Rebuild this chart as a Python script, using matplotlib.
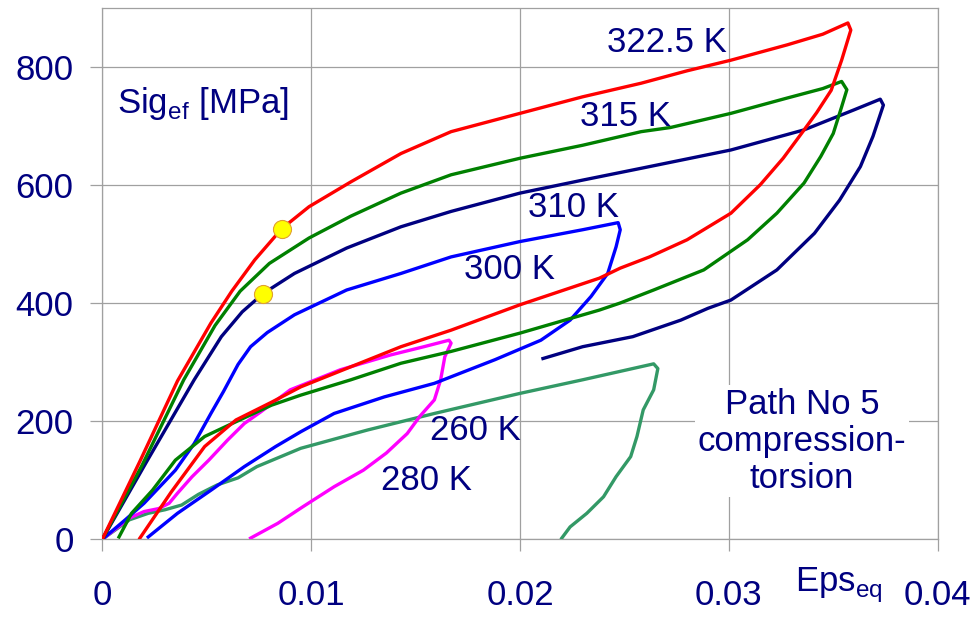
import matplotlib
matplotlib.use("Agg")
import matplotlib.pyplot as plt

plt.rcParams['font.family'] = ['Liberation Sans', 'DejaVu Sans']
plt.rcParams['mathtext.fontset'] = 'custom'
plt.rcParams['mathtext.rm'] = 'Liberation Sans'

# ---------------- data ----------------
eps_3225 = [0, 0.0018, 0.0036, 0.0052, 0.0062, 0.0073, 0.0086, 0.0099, 0.0119, 0.0143, 0.0167, 0.0200,
            0.0230, 0.0258, 0.0280, 0.0301, 0.0328, 0.0345, 0.0357, 0.03584, 0.0354, 0.0349,
            0.0342, 0.0335, 0.0326, 0.0315, 0.0301, 0.0280, 0.0262, 0.0248, 0.0238, 0.0200,
            0.0167, 0.0143, 0.0119, 0.0095, 0.0081, 0.0064, 0.0049, 0.0033, 0.0018]
sig_3225 = [0, 132, 268, 366, 420, 473, 526, 563, 605, 653, 690, 721,
            749, 772, 793, 811, 837, 855, 874, 862, 811, 760,
            722, 688, 645, 600, 552, 507, 478, 459, 442, 397,
            354, 326, 292, 258, 232, 202, 157, 80, 2]

eps_315 = [0, 0.0019, 0.0039, 0.0054, 0.0066, 0.0080, 0.0099, 0.0119, 0.0143, 0.0167, 0.0200, 0.0230,
           0.0258, 0.0272, 0.0301, 0.0328, 0.0345, 0.0354, 0.03565, 0.0354, 0.0350, 0.0344,
           0.0336, 0.0323, 0.0309, 0.0288, 0.0264, 0.0248, 0.0238, 0.0200, 0.0167, 0.0143,
           0.0119, 0.0095, 0.0081, 0.0064, 0.0049, 0.0035, 0.0024, 0.0014, 0.0008]
sig_315 = [0, 125, 270, 362, 420, 467, 510, 547, 586, 617, 645, 667,
           690, 697, 721, 747, 763, 775, 761, 732, 687, 648,
           603, 552, 507, 456, 422, 400, 388, 349, 318, 298,
           270, 244, 227, 199, 174, 134, 83, 44, 4]

eps_310 = [0, 0.0021, 0.0044, 0.0057, 0.0067, 0.0077, 0.0092, 0.0117, 0.0143, 0.0167, 0.0200, 0.0230,
           0.0258, 0.0301, 0.0336, 0.0360, 0.03725, 0.0374, 0.0369, 0.0363, 0.0353, 0.0341,
           0.0323, 0.0301, 0.0290, 0.0277, 0.0254, 0.0230, 0.0211]
sig_310 = [0, 130, 270, 343, 385, 416, 450, 493, 529, 555, 586, 608,
           628, 659, 693, 727, 745, 735, 682, 631, 574, 518,
           456, 405, 391, 371, 343, 326, 306]

eps_300 = [0, 0.0011, 0.0020, 0.0035, 0.0044, 0.0052, 0.0058, 0.0065, 0.0071, 0.0079, 0.0092, 0.0117,
           0.0143, 0.0167, 0.0200, 0.0230, 0.0247, 0.0248, 0.0246, 0.0242, 0.0234, 0.0224,
           0.0210, 0.0188, 0.0159, 0.0135, 0.0111, 0.0095, 0.0083, 0.0068, 0.0052, 0.0036, 0.0022]
sig_300 = [0, 33, 61, 117, 162, 213, 250, 296, 326, 350, 380, 422,
           450, 478, 504, 524, 536, 524, 495, 450, 411, 371,
           337, 304, 264, 241, 213, 182, 157, 123, 83, 44, 4]

eps_280 = [0, 0.0013, 0.0020, 0.0027, 0.0032, 0.0036, 0.0043, 0.0051, 0.0060, 0.0068, 0.0076,
           0.0090, 0.0114, 0.0138, 0.0154, 0.0166, 0.0167, 0.0164, 0.0162, 0.0159, 0.0152,
           0.0146, 0.0136, 0.0125, 0.0111, 0.0096, 0.0084, 0.0071]
sig_280 = [0, 36, 47, 52, 61, 78, 106, 134, 168, 196, 216,
           253, 287, 312, 326, 337, 332, 309, 270, 236, 208,
           179, 146, 117, 89, 55, 27, 2]

eps_260 = [0, 0.0013, 0.0022, 0.0030, 0.0038, 0.0046, 0.0055, 0.0065, 0.0074, 0.0095, 0.0127,
           0.0159, 0.0200, 0.0230, 0.0264, 0.0266, 0.0264, 0.0259, 0.0256, 0.0253, 0.0246,
           0.0240, 0.0232, 0.0224, 0.0220]
sig_260 = [0, 33, 44, 50, 58, 76, 92, 104, 123, 154, 185,
           213, 247, 270, 297, 289, 253, 219, 174, 140, 106,
           72, 44, 21, 2]

marker_eps = [0.00862, 0.00771]
marker_sig = [526, 416]

labels = ["322.5 K", "315 K", "310 K", "300 K", "260 K", "280 K"]
label_eps = [0.02703, 0.02503, 0.02258, 0.0195, 0.01788, 0.01551]
label_sig = [841, 715, 562, 457, 184, 99]

x_ticks = [0, 0.01, 0.02, 0.03, 0.04]
x_ticklabels = ["0", "0.01", "0.02", "0.03", "0.04"]
y_ticks = [0, 200, 400, 600, 800]

# ---------------- figure ----------------
navy = '#000080'
fig = plt.figure(figsize=(9.76, 6.19), dpi=100)
ax = fig.add_axes([102.3 / 976, 1 - 539.3 / 619, (937.7 - 102.3) / 976, (539.3 - 7.6) / 619])

lw = 2.4
ax.plot(eps_260, sig_260, color='#339966', lw=lw, zorder=3)
ax.plot(eps_280, sig_280, color='#FF00FF', lw=lw, zorder=3)
ax.plot(eps_300, sig_300, color='#0000FF', lw=lw, zorder=3)
ax.plot(eps_310, sig_310, color='#000080', lw=lw, zorder=3)
ax.plot(eps_315, sig_315, color='#008000', lw=lw, zorder=3)
ax.plot(eps_3225, sig_3225, color='#FF0000', lw=lw, zorder=3)
ax.plot(marker_eps, marker_sig, 'o', ms=13, mfc='#FFFF00', mec='#E0A030', mew=0.8, zorder=4)

ax.set_xlim(0, 0.04)
ax.set_ylim(0, 900)
ax.set_xticks(x_ticks)
ax.set_xticklabels(x_ticklabels)
ax.set_yticks(y_ticks)

gc = '#a0a0a0'
ax.grid(True, color=gc, lw=0.9, zorder=0)
ax.set_axisbelow(True)
for s in ax.spines.values():
    s.set_color(gc)
    s.set_linewidth(0.9)
ax.tick_params(axis='x', direction='out', length=8.6, width=0.9, color=gc,
               labelsize=25, labelcolor=navy, pad=20)
ax.tick_params(axis='y', direction='out', length=8.6, width=0.9, color=gc,
               labelsize=25, labelcolor=navy, pad=12)

for t, xe, ys in zip(labels, label_eps, label_sig):
    ax.text(xe, ys, t, fontsize=25, color=navy, ha='center', va='center', zorder=5)

ax.text(0.0335, 166, "Path No 5\ncompression-\ntorsion", fontsize=25, color=navy,
        ha='center', va='center', linespacing=1.15, zorder=5,
        bbox=dict(facecolor='white', edgecolor='none', pad=2))

ax.text(0.00069, 721, r"Sig$_{\mathregular{ef}}$ [MPa]", fontsize=25, color=navy,
        ha='left', va='baseline', zorder=5)
fig.text(795 / 976, 1 - 591.7 / 619, r"Eps$_{\mathregular{eq}}$", fontsize=25, color=navy,
         ha='left', va='baseline')

fig.savefig("out.png", dpi=100)
